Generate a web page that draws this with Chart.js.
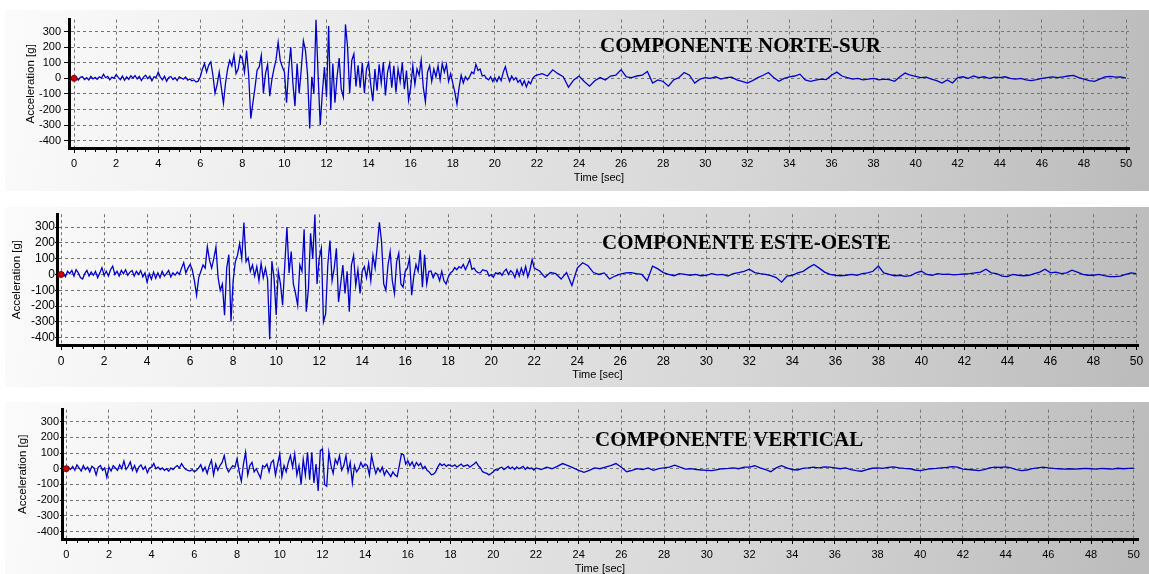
<!DOCTYPE html>
<html>
<head>
<meta charset="utf-8">
<script src="https://cdn.jsdelivr.net/npm/chart.js@4.4.1/dist/chart.umd.min.js"></script>
<style>
  html, body { margin: 0; padding: 0; background: #fff; width: 1149px; height: 574px; overflow: hidden; }
  .panel {
    position: absolute; left: 5px; width: 1144px;
    background: linear-gradient(100deg, #fbfbfb 0%, #ebebeb 30%, #d6d6d6 65%, #bbbbbb 100%);
  }
  .panel canvas { display: block; }
</style>
</head>
<body>
<div class="panel" style="top:10px;height:181px"><canvas id="c-ns" width="1144" height="181"></canvas></div>
<div class="panel" style="top:207px;height:180px"><canvas id="c-eo" width="1144" height="180"></canvas></div>
<div class="panel" style="top:402px;height:178px"><canvas id="c-ve" width="1144" height="178"></canvas></div>
<script>
// ========== DATA ==========
const componentNames = ["COMPONENTE NORTE-SUR", "COMPONENTE ESTE-OESTE", "COMPONENTE VERTICAL"];
const timeTicks = [0, 2, 4, 6, 8, 10, 12, 14, 16, 18, 20, 22, 24, 26, 28, 30, 32, 34, 36, 38, 40, 42, 44, 46, 48, 50];
const accelTicks = [300, 200, 100, 0, -100, -200, -300, -400];

// samples every 0.1 s from 0 to 21.9 s, then every 0.25 s from 22 to 50 s
const EARLY_STEP = 0.1;
const LATE_START = 22;
const LATE_STEP = 0.25;

// Norte-Sur
const nsEarly = [
  0, 8, -12, 6, 10, -8, 4, -10, 12, -4,              // 0 s
  6, -6, 10, 2, 26, 4, 12, -10, 8, 0,                // 1
  24, 6, -8, 14, -12, 10, -6, 16, 2, 18,             // 2
  -4, 12, -14, 8, 20, -2, 14, -16, 10, 6,            // 3
  40, 8, -10, 14, -18, 6, 12, -8, 4, -14,            // 4
  10, 2, -6, 8, -12, -4, -16, -10, -24, -18,         // 5
  10, 60, 95, 40, 85, 105, 20, -95, -40, 40,         // 6
  -60, -160, -30, 60, 115, 80, 150, 30, 60, 147,     // 7
  126, 40, 178, 20, -258, -157, -60, 52, 73, 147,    // 8
  -95, 31, 90, -115, -10, 60, 120, 231, 115, 73,     // 9
  40, -157, 60, 200, -30, -178, 95, -95, 60, 241,    // 10
  178, 20, -321, 10, -100, 378, 20, -300, -95, 73,   // 11
  -120, 336, -200, 95, -157, 10, 130, -70, -120, 346,// 12
  200, -95, 115, 157, -52, 84, -60, 100, -95, 60,    // 13
  100, -40, -147, 60, -80, 90, -30, 105, -110, 40,   // 14
  95, -60, 80, -90, 60, -20, 100, -70, 50, -140,     // 15
  -60, 80, -40, 60, 20, 117, -60, -151, 40, 80,      // 16
  -20, 60, 10, 80, -10, 95, 40, 90, -20, 30,         // 17
  -30, -90, -166, -60, 20, -30, 10, -10, 10, 40,     // 18
  30, 90, 50, 60, 15, 20, 0, -10, 10, -20,           // 19
  5, -20, 10, -15, 40, 75, 20, -20, 15, -10,         // 20
  5, -25, -10, -45, -15, -55, -20, -35, 0, 15        // 21
];
const nsLate = [
  20, 30, 15, 55,   30, 10, -57, -10,  15, -20, -50, -15,  5, -10, 15, 20,     // 22-25
  55, 10, 5, 15,    20, 44, -30, -10,  -20, -50, -10, 5,   38, 20, -30, -5,    // 26-29
  5, 0, 10, -5,     5, 8, -10, -20,    -30, -15, 5, 20,    38, 5, -19, 0,      // 30-33
  10, 15, 27, -10,  -19, -12, -5, -8,  20, 40, 15, 5,      -5, 0, -10, -5,     // 34-37
  0, -10, -5, -8,   -19, 10, 34, 20,   12, 5, 8, -5,       -15, -30, -10, -30, // 38-41
  5, 10, 0, 15,     5, 10, 0, 8,       5, 10, 0, -5,       0, -10, -15, -8,    // 42-45
  0, 5, 10, 5,      10, 15, 19, 5,     -5, -15, -19, -5,   10, 12, 8, 10,      // 46-49
  2                                                                            // 50
];

// Este-Oeste
const eoEarly = [
  0, 10, -15, 20, 5, 25, -10, 30, 10, -20,           // 0 s
  -29, 5, 25, -10, 15, -5, 20, -20, 10, 43,          // 1
  -5, 20, -10, 30, 53, 0, 20, -10, 25, 5,            // 2
  30, -5, 15, 25, -10, 20, 0, 25, -15, 10,           // 3
  -49, 5, -30, 15, -25, 10, -20, 20, -10, 5,         // 4
  25, -15, 10, -5, 15, 0, 40, 74, 10, 40,            // 5
  63, 30, -40, -131, -20, 20, 60, 40, 176, 90,       // 6
  40, 100, 174, -20, -100, -60, -258, 40, 125, -297, // 7
  -40, 80, 120, 195, 100, 329, 80, 104, 20, 60,      // 8
  -10, 50, -40, 70, -20, 40, -30, -410, 84, -20,     // 9
  -256, 20, -60, -195, 60, 300, 10, 145, -60, -120,  // 10
  -195, 60, 20, 285, -236, -90, 260, 100, 380, -60,  // 11
  100, 166, -300, -250, 60, 215, -40, 40, 166, -174, // 12
  -60, 60, -120, 20, -236, 60, 120, -70, 30, -120,   // 13
  20, 50, -20, 70, -40, 120, 40, 180, 330, 206,      // 14
  -60, -100, 60, 145, -40, -120, 80, 135, -60, -80,  // 15
  20, 40, 104, -131, -10, 63, 20, 155, -80, 125,     // 16
  -60, 20, 22, -20, 10, 0, -39, 20, -40, -60,        // 17
  -18, 10, 20, 43, 30, 50, 40, 63, 30, 60,           // 18
  94, 33, 40, 20, 10, 12, 30, 25, 22, -10,           // 19
  0, -18, 10, 5, 12, -5, 20, 33, 0, 25,              // 20
  10, -20, 30, -10, 40, 0, 50, -15, 30, 94           // 21
];
const eoLate = [
  40, 22, -18, 12,  5, -29, 12, -70,   40, 74, 55, 12,     0, 10, -29, -10,    // 22-25
  2, 10, 12, 5,     0, -39, 53, 35,    12, 0, -8, 5,       0, -5, 0, -8,       // 26-29
  -5, 5, -2, 0,     -10, 5, 12, 20,    33, 12, 5, 0,       -8, -20, -49, -10,  // 30-33
  -5, 10, 20, 43,   63, 40, 15, 0,     -5, -8, -5, 0,      -5, 5, 10, 20,      // 34-37
  53, 10, 0, -8,    -5, -12, -8, 10,   20, 0, -5, 5,       0, 2, -2, 0,        // 38-41
  3, 5, 10, 15,     33, 10, 5, -10,    -14, 0, -5, -8,     -5, 5, 15, 33,      // 42-45
  10, 15, 5, 10,    27, 15, 0, -5,     -5, 0, -8, -14,     -14, -10, 0, 10,    // 46-49
  5                                                                            // 50
];

// Vertical
const veEarly = [
  0, 10, -5, 15, -10, 25, 5, -15, 20, -5,            // 0 s
  10, -20, 15, 5, -40, 10, 20, -10, 5, -55,          // 1
  10, -15, 20, 5, -10, 25, 0, 49, -5, 15,            // 2
  43, -10, 20, -20, 10, 25, -5, 15, -25, 5,          // 3
  10, 33, 0, 10, -5, 5, -10, 0, -15, 5,              // 4
  -5, 10, 20, 5, 33, 10, -5, -10, -15, -5,           // 5
  -20, -10, 5, 25, -15, 10, -30, 20, 54, -39,        // 6
  30, -10, 20, 40, 84, 10, -20, 0, 20, 10,           // 7
  64, -20, -80, 30, 105, -40, 20, 40, -20, 0,        // 8
  -30, -60, 20, 10, 30, -20, 40, 54, -40, 30,        // 9
  95, -50, 20, -20, 40, 84, 10, 95, -40, 20,         // 10
  -100, 60, -40, 105, -70, 105, -90, 30, -142, 115,  // 11
  126, -100, -111, 105, 20, -30, 60, 30, 84, -10,    // 12
  20, 84, -20, 40, -90, 20, -20, 0, 40, 10,          // 13
  30, 20, -40, 84, 20, -30, 5, -20, 10, -40,         // 14
  -10, -30, -50, -20, -40, -50, 20, 95, 90, 30,      // 15
  50, 20, 43, 10, 40, 20, 35, 0, 15, -10,            // 16
  -20, -39, -35, -20, 10, 33, 20, 30, 15, 25,        // 17
  20, 15, 25, 10, 20, 30, 15, 20, 25, 10,            // 18
  20, 30, 43, 20, 5, -19, -25, -30, -39, -30,        // 19
  -19, -5, -10, 5, 10, -5, 5, 15, 0, 10,             // 20
  -5, 12, 0, 8, 15, -5, 10, 0, 5, -8                 // 21
];
const veLate = [
  5, -5, 10, 0,     15, 33, 20, 5,     -10, -23, -10, 5,   0, 10, 20, 33,      // 22-25
  10, -19, -10, 0,  -5, 5, -10, 0,     5, 10, 23, 10,      -2, 0, -5, -8,      // 26-29
  -10, -12, -5, 0,  2, 5, 0, 10,       10, 19, 5, -5,      -19, 5, 19, 5,      // 30-33
  -5, -8, 2, 5,     10, 5, 12, 10,     5, 0, 5, -5,        -12, -16, -5, 3,    // 34-37
  5, 2, 8, 12,      5, 2, 0, -8,       -12, -5, 0, 2,      5, 8, 14, 10,       // 38-41
  -2, -5, -8, -12,  -5, 5, 10, 8,      12, 5, -5, -12,     -8, 0, 5, 10,       // 42-45
  5, 2, 0, -2,      0, -3, 0, 2,       0, -2, 2, 0,        -2, 3, 0, 2,        // 46-49
  3                                                                            // 50
];

// ========== HELPERS ==========
function toPoints(early, late) {
  const pts = [];
  early.forEach((v, i) => pts.push({ x: Math.round(i * EARLY_STEP * 100) / 100, y: v }));
  late.forEach((v, i) => pts.push({ x: LATE_START + i * LATE_STEP, y: v }));
  return pts;
}

// small ticks every half second under the time axis
const minorTicks = {
  id: "minorTicks",
  afterDraw(chart) {
    const xs = chart.scales.x;
    const ctx = chart.ctx;
    const y0 = chart.chartArea.bottom + 1;
    ctx.save();
    ctx.strokeStyle = "#000";
    ctx.lineWidth = 1;
    ctx.beginPath();
    for (let k = 0; k <= 100; k++) {
      if (k % 4 === 0) continue;
      const px = Math.round(xs.getPixelForValue(k / 2)) + 0.5;
      ctx.moveTo(px, y0);
      ctx.lineTo(px, y0 + 3);
    }
    ctx.stroke();
    ctx.restore();
  },
};

// bold serif caption inside the plot
const componentTitle = {
  id: "componentTitle",
  afterDatasetsDraw(chart, args, opts) {
    const ctx = chart.ctx;
    ctx.save();
    ctx.font = 'bold 21px "Liberation Serif", "Times New Roman", serif';
    ctx.fillStyle = "#000";
    ctx.textAlign = "left";
    ctx.textBaseline = "alphabetic";
    ctx.fillText(opts.text, opts.x, opts.y);
    ctx.restore();
  },
};

// ========== PANELS ==========
const panels = [
  { id: "c-ns", name: componentNames[0], early: nsEarly, late: nsLate,
    xRange: [-0.24, 50.14], yRange: [-447, 377],
    padding: { left: 15, right: 20, top: 7, bottom: 4 }, yWidth: 49,
    yTickLen: 5, yTickPad: 3, tickFont: 11, caption: [595, 42] },
  { id: "c-eo", name: componentNames[1], early: eoEarly, late: eoLate,
    xRange: [-0.19, 50.07], yRange: [-446, 381],
    padding: { left: 1, right: 11, top: 3, bottom: 3 }, yWidth: 51,
    yTickLen: 2, yTickPad: 0, tickFont: 12, caption: [597, 42] },
  { id: "c-ve", name: componentNames[2], early: veEarly, late: veLate,
    xRange: [-0.2, 50.2], yRange: [-448, 377],
    padding: { left: 7, right: 11, top: 4, bottom: 2 }, yWidth: 50,
    yTickLen: 2, yTickPad: 1, tickFont: 11, caption: [590, 44] },
];

const sansFamily = '"Liberation Sans", Arial, sans-serif';

panels.forEach((p) => {
  new Chart(document.getElementById(p.id), {
    type: "line",
    data: {
      datasets: [
        {
          // red marker at the origin
          data: [{ x: 0, y: 0 }],
          showLine: false,
          pointRadius: 3,
          pointBackgroundColor: "#d00000",
          pointBorderColor: "#800000",
          pointBorderWidth: 1,
        },
        {
          data: toPoints(p.early, p.late),
          borderColor: "#0000c8",
          borderWidth: 1.3,
          pointRadius: 0,
          tension: 0,
          fill: false,
        },
      ],
    },
    options: {
      responsive: false,
      animation: false,
      events: [],
      layout: { padding: p.padding },
      plugins: {
        legend: { display: false },
        tooltip: { enabled: false },
        componentTitle: { text: p.name, x: p.caption[0], y: p.caption[1] },
      },
      scales: {
        x: {
          type: "linear",
          min: p.xRange[0],
          max: p.xRange[1],
          afterBuildTicks: (s) => { s.ticks = timeTicks.map((v) => ({ value: v })); },
          afterFit: (s) => { s.height = 39; },
          ticks: { autoSkip: false, maxRotation: 0, color: "#000", padding: 4,
                   font: { family: sansFamily, size: p.tickFont } },
          grid: { color: "#737373", tickColor: "#000", tickLength: 5 },
          border: { color: "#000", width: 3, dash: [3, 3] },
          title: { display: true, text: "Time [sec]", color: "#000",
                   font: { family: sansFamily, size: 11 }, padding: { top: 0, bottom: 2 } },
        },
        y: {
          type: "linear",
          min: p.yRange[0],
          max: p.yRange[1],
          afterBuildTicks: (s) => { s.ticks = accelTicks.map((v) => ({ value: v })); },
          afterFit: (s) => { s.width = p.yWidth; },
          ticks: { color: "#000", padding: p.yTickPad,
                   font: { family: sansFamily, size: p.tickFont } },
          grid: { color: "#737373", tickColor: "#000", tickLength: p.yTickLen },
          border: { color: "#000", width: 3, dash: [3, 3] },
          title: { display: true, text: "Acceleration [g]", color: "#000",
                   font: { family: sansFamily, size: 11.5 }, padding: 4 },
        },
      },
    },
    plugins: [minorTicks, componentTitle],
  });
});
</script>
</body>
</html>
